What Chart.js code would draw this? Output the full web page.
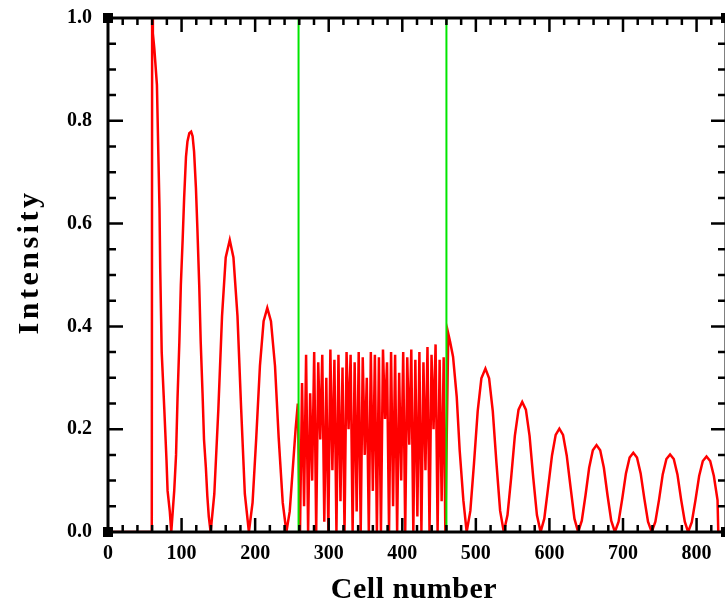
<!DOCTYPE html>
<html lang="en">
<head>
    <meta charset="UTF-8" />
    <title>Intensity vs cell number</title>
    <script src="https://cdn.jsdelivr.net/npm/chart.js"></script>
    <style>
        html, body { margin: 0; padding: 0; background: #fff; overflow: hidden; }
        #wrap { width: 725px; height: 605px; overflow: hidden; }
        #grafico { display: block; }
    </style>
</head>
<body>
<div id="wrap"><canvas id="grafico" width="735" height="605"></canvas></div>

<script>
    // edge fringes before the first gate
    const fringeX = [0, 59.5, 60, 61, 63, 66.5, 68.5, 70, 71, 73, 76.5, 79.5, 81, 84, 86,
        88, 90, 92.5, 94.5, 97, 99, 101.5, 103.5, 106, 108, 110.5, 113, 115, 117, 119.5, 121.5,
        124, 126, 128.5, 130.5, 133, 135, 137, 139.5,
        144.5, 150, 155, 160, 165.5, 170.5, 176, 181, 186, 191.5,
        196.5, 201.5, 206.5, 211.5, 216.5, 221.5, 227, 232, 237.5, 242.5,
        247, 251, 255, 258];
    const fringeY = [0, 0, 1.0, 0.97, 0.94, 0.87, 0.73, 0.63, 0.51, 0.35, 0.24, 0.14, 0.08, 0.04, 0,
        0.04, 0.08, 0.15, 0.26, 0.37, 0.48, 0.57, 0.65, 0.73, 0.76, 0.776, 0.779, 0.77, 0.74, 0.67, 0.59,
        0.48, 0.37, 0.27, 0.18, 0.126, 0.07, 0.03, 0,
        0.074, 0.239, 0.42, 0.534, 0.568, 0.534, 0.42, 0.239, 0.074, 0,
        0.057, 0.183, 0.323, 0.41, 0.436, 0.41, 0.323, 0.183, 0.057, 0,
        0.04, 0.12, 0.2, 0.25];

    // fast oscillation between the gates
    const denseX = [261, 263.75, 266.5, 269.25, 272, 274.75, 277.5, 280.25, 283, 285.75,
        288.5, 291.25, 294, 296.75, 299.5, 302.25, 305, 307.75, 310.5, 313.25,
        316, 318.75, 321.5, 324.25, 327, 329.75, 332.5, 335.25, 338, 340.75,
        343.5, 346.25, 349, 351.75, 354.5, 357.25, 360, 362.75, 365.5, 368.25,
        371, 373.75, 376.5, 379.25, 382, 384.75, 387.5, 390.25, 393, 395.75,
        398.5, 401.25, 404, 406.75, 409.5, 412.25, 415, 417.75, 420.5, 423.25,
        426, 428.75, 431.5, 434.25, 437, 439.75, 442.5, 445.25, 448, 450.75,
        453.5, 456.25, 458.5];
    const denseY = [0, 0.29, 0.05, 0.345, 0, 0.27, 0.1, 0.35, 0, 0.33,
        0.18, 0.345, 0.02, 0.30, 0, 0.355, 0.12, 0.335, 0, 0.345,
        0.06, 0.32, 0, 0.35, 0.2, 0.345, 0, 0.33, 0.04, 0.35,
        0, 0.34, 0.15, 0.30, 0, 0.35, 0.08, 0.345, 0, 0.34,
        0, 0.355, 0.22, 0.33, 0, 0.35, 0.05, 0.345, 0, 0.31,
        0.1, 0.35, 0, 0.34, 0.17, 0.355, 0, 0.335, 0.03, 0.35,
        0, 0.33, 0.12, 0.36, 0, 0.345, 0.2, 0.365, 0, 0.335,
        0.06, 0.34, 0];

    // fringes after the second gate
    const tailX = [462.5, 465, 469, 474, 478, 483, 487.5,
        492.5, 497.5, 502.5, 507.5, 513, 518, 523, 528, 533, 538,
        543, 548, 553, 558, 563, 568, 573, 578, 583, 588,
        593, 598, 603.5, 608.5, 613.5, 618.5, 623.5, 629, 634, 639,
        644, 649, 654, 659, 664, 669, 674, 679, 684, 689,
        694, 699, 704, 709, 714, 719, 724, 729, 734, 739,
        744, 749, 754, 759, 764, 769, 774, 779, 784, 788.5,
        793.5, 798.5, 803.5, 808.5, 813.5, 818.5, 823.5, 828.5, 829.5, 840];
    const tailY = [0.386, 0.37, 0.341, 0.263, 0.159, 0.062, 0,
        0.041, 0.134, 0.235, 0.299, 0.318, 0.299, 0.235, 0.134, 0.041, 0,
        0.033, 0.106, 0.187, 0.238, 0.253, 0.238, 0.187, 0.106, 0.033, 0,
        0.026, 0.084, 0.149, 0.189, 0.201, 0.189, 0.149, 0.084, 0.026, 0,
        0.022, 0.071, 0.125, 0.159, 0.169, 0.159, 0.125, 0.071, 0.022, 0,
        0.02, 0.065, 0.114, 0.145, 0.154, 0.145, 0.114, 0.065, 0.02, 0,
        0.02, 0.063, 0.112, 0.142, 0.151, 0.142, 0.112, 0.063, 0.02, 0,
        0.019, 0.062, 0.109, 0.138, 0.147, 0.138, 0.109, 0.062, 0, 0];

    const gateX = [259, 460];
    const xTicks = [0, 100, 200, 300, 400, 500, 600, 700, 800];
    const yTicks = [0, 0.2, 0.4, 0.6, 0.8, 1.0];

    const cellX = fringeX.concat(denseX, tailX);
    const intensity = fringeY.concat(denseY, tailY);
    const curve = cellX.map((x, i) => ({ x: x, y: intensity[i] }));

    const gateSets = gateX.map(g => ({
        data: [{ x: g, y: 0 }, { x: g, y: 1 }],
        borderColor: '#00e600',
        borderWidth: 2,
        pointRadius: 0
    }));

    // frame, inward ticks, corner squares and axis titles
    const moldura = {
        id: 'moldura',
        afterDraw(chart) {
            const ctx = chart.ctx;
            const a = chart.chartArea;
            const xs = chart.scales.x, ys = chart.scales.y;
            ctx.save();
            ctx.strokeStyle = '#000';
            ctx.fillStyle = '#000';
            ctx.lineWidth = 2.5;
            ctx.beginPath();
            for (let v = 20; v < 840; v += 20) {
                const px = xs.getPixelForValue(v);
                const len = v % 100 === 0 ? 14 : 7;
                ctx.moveTo(px, a.bottom); ctx.lineTo(px, a.bottom - len);
                ctx.moveTo(px, a.top); ctx.lineTo(px, a.top + len);
            }
            for (let k = 1; k < 20; k++) {
                const py = ys.getPixelForValue(k * 0.05);
                const len = k % 4 === 0 ? 15 : 8;
                ctx.moveTo(a.left, py); ctx.lineTo(a.left + len, py);
                ctx.moveTo(a.right, py); ctx.lineTo(a.right - len, py);
            }
            ctx.stroke();
            ctx.lineWidth = 3;
            ctx.strokeRect(a.left, a.top, a.right - a.left, a.bottom - a.top);
            [[a.left, a.top], [a.right, a.top], [a.left, a.bottom], [a.right, a.bottom]].forEach(c => {
                ctx.fillRect(c[0] - 5, c[1] - 5, 10, 10);
            });

            ctx.font = 'bold 30px "Liberation Serif"';
            ctx.textAlign = 'center';
            ctx.textBaseline = 'alphabetic';
            ctx.letterSpacing = '0.5px';
            ctx.fillText('Cell number', 414, 598);
            ctx.translate(38, 262);
            ctx.rotate(-Math.PI / 2);
            ctx.letterSpacing = '3.5px';
            ctx.fillText('Intensity', 0, 0);
            ctx.restore();
        }
    };

    new Chart(document.getElementById('grafico'), {
        type: 'line',
        data: {
            datasets: gateSets.concat([{
                data: curve,
                borderColor: '#ff0000',
                borderWidth: 2.5,
                pointRadius: 0,
                tension: 0
            }])
        },
        options: {
            responsive: false,
            animation: false,
            layout: { padding: { top: 18, right: 9, left: 0, bottom: 0 } },
            plugins: {
                legend: { display: false },
                tooltip: { enabled: false }
            },
            scales: {
                x: {
                    type: 'linear',
                    min: 0,
                    max: 840,
                    grid: { display: false, drawTicks: false },
                    border: { display: false },
                    afterBuildTicks: s => { s.ticks = xTicks.map(v => ({ value: v })); },
                    afterFit: s => { s.height = 73; s.paddingLeft = 0; s.paddingRight = 0; },
                    ticks: {
                        color: '#000',
                        padding: 10,
                        maxRotation: 0,
                        autoSkip: false,
                        font: { family: 'Liberation Serif', size: 20, weight: 'bold' }
                    }
                },
                y: {
                    min: 0,
                    max: 1,
                    grid: { display: false, drawTicks: false },
                    border: { display: false },
                    afterBuildTicks: s => { s.ticks = yTicks.map(v => ({ value: v })); },
                    afterFit: s => { s.width = 108; s.paddingTop = 0; s.paddingBottom = 0; },
                    ticks: {
                        color: '#000',
                        padding: 16,
                        callback: v => v.toFixed(1),
                        font: { family: 'Liberation Serif', size: 20, weight: 'bold' }
                    }
                }
            }
        },
        plugins: [moldura]
    });
</script>
</body>
</html>
